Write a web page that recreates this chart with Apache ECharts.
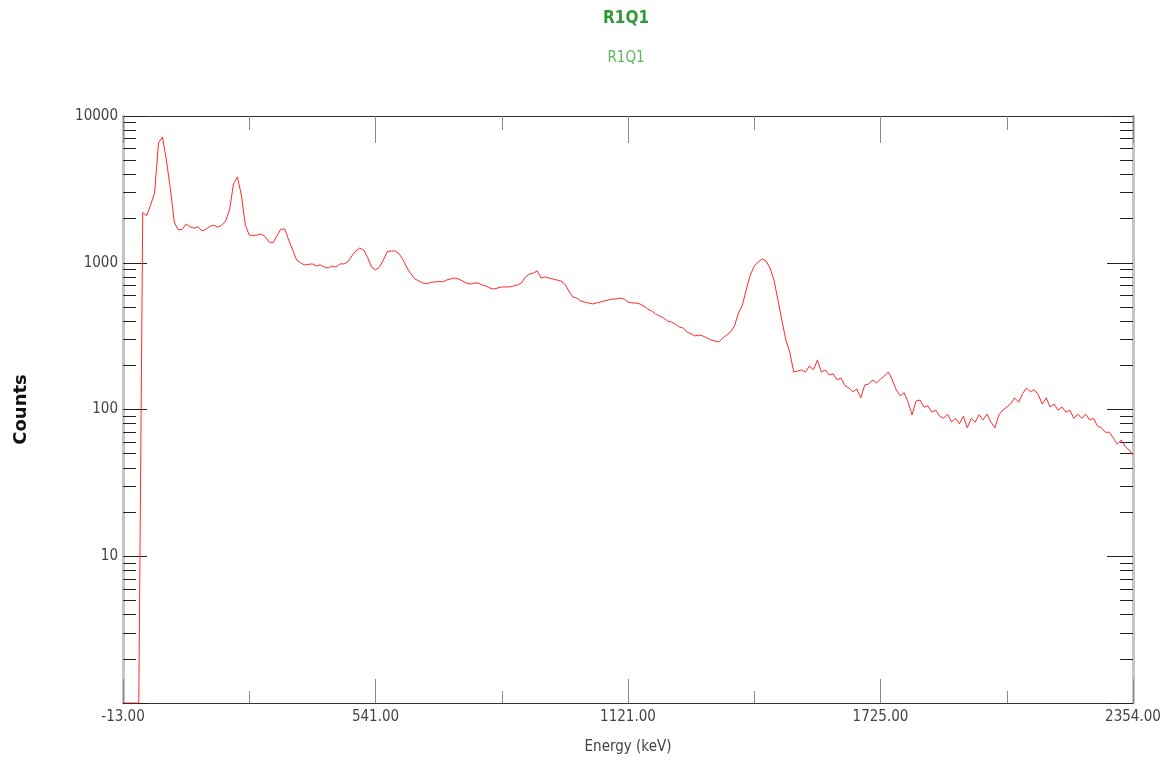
<!DOCTYPE html>
<html>
<head>
<meta charset="utf-8">
<script src="https://cdn.jsdelivr.net/npm/echarts@6/dist/echarts.min.js"></script>
<style>
html,body{margin:0;padding:0;background:#ffffff;}
#chart{width:1172px;height:760px;}
</style>
</head>
<body>
<div id="chart"></div>
<script>
// ---------- data ----------
const titleText = 'R1Q1';
const subtitleText = 'R1Q1';
const xAxisName = 'Energy (keV)';
const yAxisName = 'Counts';

// x axis is the channel axis; labels are the calibrated energies at the major ticks
const channelMax = 1024;
const channelTickStep = 256;
const channelStep = 4;
const xTickLabels = ['-13.00', '541.00', '1121.00', '1725.00', '2354.00'];

// y axis (log)
const yMajorTicks = [1, 10, 100, 1000, 10000];
const yLabelValues = [10, 100, 1000, 10000];
const yTickLabels = ['10', '100', '1000', '10000'];
const yMinorTicks = [2, 3, 4, 5, 6, 7, 8, 9,
  20, 30, 40, 50, 60, 70, 80, 90,
  200, 300, 400, 500, 600, 700, 800, 900,
  2000, 3000, 4000, 5000, 6000, 7000, 8000, 9000];

// counts, one value every `channelStep` channels
const counts = [
  1, 1, 1, 1, 1,
  2200, 2090, 2475, 2990, 6550,
  7200, 5010, 3200, 1895, 1672,
  1690, 1835, 1755, 1720, 1760,
  1646, 1690, 1770, 1800, 1750,
  1800, 1925, 2290, 3440, 3840,
  2895, 1808, 1545, 1530, 1550,
  1570, 1510, 1385, 1363, 1521,
  1690, 1698, 1429, 1222, 1044,
  1000, 966, 975, 982, 950,
  966, 934, 921, 950, 934,
  982, 982, 1016, 1112, 1203,
  1260, 1222, 1086, 934, 893,
  934, 1044, 1190, 1203, 1203,
  1150, 1044, 921, 838, 775,
  752, 728, 720, 735, 740,
  745, 740, 762, 775, 787,
  775, 752, 728, 716, 728,
  728, 705, 695, 673, 662,
  673, 684, 684, 684, 695,
  705, 728, 800, 838, 851,
  880, 787, 800, 787, 775,
  762, 750, 716, 642, 584,
  575, 549, 540, 532, 524,
  532, 540, 549, 557, 565,
  566, 575, 566, 540, 532,
  532, 524, 507, 484, 469,
  448, 434, 420, 401, 395,
  382, 365, 359, 337, 327,
  317, 322, 317, 307, 298,
  293, 288, 307, 322, 337,
  371, 455, 515, 662, 825,
  950, 1012, 1061, 1028, 921,
  763, 557, 407, 298, 246,
  180, 183, 186, 180, 198,
  186, 217, 180, 186, 172,
  175, 159, 164, 145, 140,
  132, 138, 120, 147, 149,
  159, 152, 161, 169, 180,
  159, 136, 124, 130, 112,
  92, 114, 116, 104, 106,
  96, 99, 90, 87, 93,
  82, 87, 80, 90, 75,
  87, 82, 92, 85, 93,
  82, 75, 92, 99, 104,
  109, 120, 112, 128, 140,
  132, 136, 126, 109, 120,
  104, 109, 99, 104, 96,
  99, 87, 93, 87, 93,
  85, 87, 77, 75, 70,
  70, 64, 58, 62, 56,
  53, 49
];

// ---------- chart ----------
const NARROW = "'Liberation Sans Narrow','DejaVu Sans Condensed','Liberation Sans',sans-serif";
const seriesData = counts.map((c, i) => [i * channelStep, c]);

function xAxisCfg(pos, majorLen, minorLen, showLabels) {
  return {
    type: 'value', position: pos, min: 0, max: channelMax, interval: channelTickStep,
    axisLine: { show: true, onZero: false, lineStyle: { color: '#333333', width: 1 } },
    axisTick: { show: true, inside: true, length: majorLen, lineStyle: { color: '#8a8a8a', width: 1 } },
    minorTick: { show: true, splitNumber: 2, length: minorLen, lineStyle: { color: '#8a8a8a', width: 1 } },
    splitLine: { show: false }, minorSplitLine: { show: false },
    axisLabel: {
      show: showLabels, margin: 7, color: '#444444', fontFamily: NARROW, fontSize: 15,
      showMinLabel: true, showMaxLabel: true, hideOverlap: false,
      formatter: v => xTickLabels[Math.round(v / channelTickStep)] || ''
    },
    name: showLabels ? xAxisName : '',
    nameLocation: 'middle', nameGap: 37,
    nameTextStyle: { color: '#444444', fontFamily: NARROW, fontSize: 15 }
  };
}

function yAxisCfg(pos, ticks, tickLen, showLine, showLabels, withName) {
  return {
    type: 'log', logBase: 10, min: 1, max: 10000, position: pos, offset: 0,
    axisLine: { show: showLine, lineStyle: { color: '#c6c6c6', width: 3 } },
    axisTick: { show: true, inside: true, length: tickLen, customValues: ticks,
      lineStyle: { color: '#222222', width: 1 } },
    minorTick: { show: false },
    splitLine: { show: false }, minorSplitLine: { show: false },
    axisLabel: {
      show: showLabels, customValues: yLabelValues, margin: 5, color: '#444444',
      fontFamily: NARROW, fontSize: 15,
      formatter: v => {
        const k = yLabelValues.indexOf(Math.round(v));
        return k >= 0 ? yTickLabels[k] : '';
      }
    },
    name: withName ? yAxisName : '',
    nameLocation: 'middle', nameGap: 93, nameRotate: 90,
    nameTextStyle: { color: '#111111', fontFamily: "'DejaVu Sans',sans-serif",
      fontWeight: 'bold', fontSize: 18 }
  };
}

const chart = echarts.init(document.getElementById('chart'), null, { renderer: 'canvas' });
chart.setOption({
  animation: false,
  backgroundColor: '#ffffff',
  title: [
    { text: titleText, left: 626, top: 10, textAlign: 'center', padding: 0,
      textStyle: { color: '#2f9a35', fontFamily: NARROW, fontWeight: 'bold', fontSize: 17 } },
    { text: subtitleText, left: 626, top: 51, textAlign: 'center', padding: 0,
      textStyle: { color: '#5cb85f', fontFamily: NARROW, fontWeight: 'normal', fontSize: 15 } }
  ],
  grid: { left: 123, right: 39, top: 116, bottom: 57, containLabel: false },
  xAxis: [
    xAxisCfg('bottom', 24, 12, true),
    xAxisCfg('top', 27, 14, false)
  ],
  yAxis: [
    yAxisCfg('left', yMajorTicks, 24, true, true, true),
    yAxisCfg('left', yMinorTicks, 13, false, false, false),
    yAxisCfg('right', yMajorTicks, 26, true, false, false),
    yAxisCfg('right', yMinorTicks, 13, false, false, false)
  ],
  series: [{
    type: 'line', xAxisIndex: 0, yAxisIndex: 0, data: seriesData,
    showSymbol: false, symbol: 'none', clip: true,
    lineStyle: { color: '#ff2a2a', width: 1 },
    emphasis: { disabled: true }
  }]
});
</script>
</body>
</html>
